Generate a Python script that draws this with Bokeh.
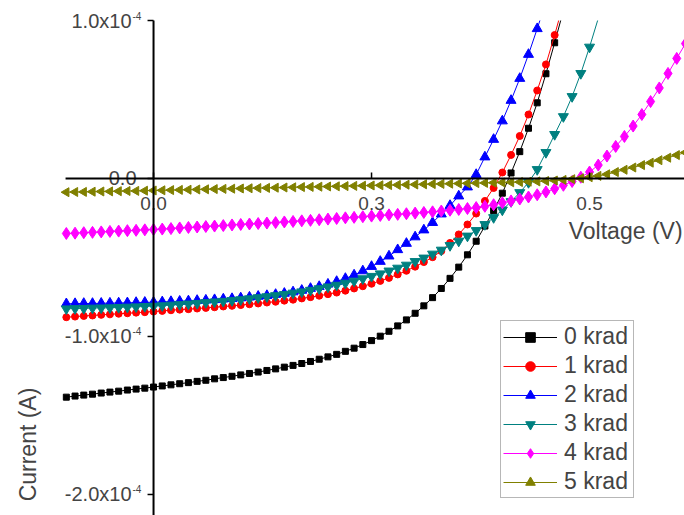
import numpy as np
from bokeh.embed import file_html
from bokeh.models import BoxAnnotation, Label, Legend, LegendItem, Range1d
from bokeh.plotting import figure
from bokeh.resources import INLINE

FONT = "Liberation Sans"

# Bias voltage (V)
voltage = [-0.10, -0.09, -0.08, -0.07, -0.06, -0.05, -0.04, -0.03, -0.02, -0.01,
           0.00, 0.01, 0.02, 0.03, 0.04, 0.05, 0.06, 0.07, 0.08, 0.09,
           0.10, 0.11, 0.12, 0.13, 0.14, 0.15, 0.16, 0.17, 0.18, 0.19,
           0.20, 0.21, 0.22, 0.23, 0.24, 0.25, 0.26, 0.27, 0.28, 0.29,
           0.30, 0.31, 0.32, 0.33, 0.34, 0.35, 0.36, 0.37, 0.38, 0.39,
           0.40, 0.41, 0.42, 0.43, 0.44, 0.45, 0.46, 0.47, 0.48, 0.49,
           0.50, 0.51, 0.52, 0.53, 0.54, 0.55, 0.56, 0.57, 0.58, 0.59,
           0.60, 0.61]

# Measured current, in units of 1e-4 A (each series starts at -0.10 V)
current_0krad = [-1.384, -1.377, -1.371, -1.365, -1.358, -1.352, -1.346, -1.339, -1.333, -1.327,
                 -1.320, -1.313, -1.306, -1.299, -1.292, -1.284, -1.277, -1.268, -1.260, -1.252,
                 -1.243, -1.234, -1.225, -1.215, -1.205, -1.194, -1.183, -1.171, -1.158, -1.144,
                 -1.129, -1.113, -1.094, -1.074, -1.051, -1.026, -0.998, -0.967, -0.933, -0.895,
                 -0.853, -0.806, -0.754, -0.696, -0.632, -0.561, -0.483, -0.397, -0.301, -0.204,
                 -0.093, 0.035, 0.170, 0.318, 0.479, 0.663, 0.859, 1.063]

current_1krad = [-0.878, -0.874, -0.870, -0.867, -0.863, -0.860, -0.856, -0.853, -0.849, -0.846,
                 -0.842, -0.838, -0.834, -0.830, -0.827, -0.823, -0.819, -0.815, -0.810, -0.806,
                 -0.801, -0.796, -0.791, -0.785, -0.780, -0.773, -0.767, -0.759, -0.751, -0.742,
                 -0.732, -0.722, -0.710, -0.696, -0.682, -0.666, -0.648, -0.629, -0.607, -0.584,
                 -0.558, -0.529, -0.498, -0.459, -0.408, -0.354, -0.291, -0.222, -0.142, -0.060,
                 0.038, 0.149, 0.269, 0.405, 0.557, 0.722, 0.908, 1.108]

current_2krad = [-0.793, -0.792, -0.791, -0.791, -0.790, -0.789, -0.788, -0.787, -0.785, -0.784,
                 -0.783, -0.781, -0.779, -0.777, -0.775, -0.772, -0.770, -0.767, -0.763, -0.760,
                 -0.756, -0.751, -0.746, -0.741, -0.734, -0.727, -0.718, -0.708, -0.696, -0.684,
                 -0.669, -0.652, -0.633, -0.611, -0.585, -0.557, -0.525, -0.491, -0.451, -0.411,
                 -0.370, -0.326, -0.279, -0.225, -0.171, -0.111, -0.054, 0.025, 0.136, 0.247,
                 0.364, 0.494, 0.633, 0.785, 0.948, 1.117]

current_3krad = [-0.825, -0.823, -0.822, -0.820, -0.819, -0.818, -0.816, -0.814, -0.812, -0.810,
                 -0.808, -0.805, -0.801, -0.798, -0.794, -0.790, -0.785, -0.781, -0.777, -0.772,
                 -0.767, -0.761, -0.754, -0.748, -0.741, -0.734, -0.725, -0.717, -0.707, -0.697,
                 -0.686, -0.675, -0.662, -0.649, -0.634, -0.619, -0.603, -0.585, -0.567, -0.548,
                 -0.525, -0.503, -0.478, -0.453, -0.424, -0.396, -0.364, -0.329, -0.291, -0.247,
                 -0.199, -0.146, -0.089, -0.025, 0.057, 0.165, 0.279, 0.392, 0.519, 0.665,
                 0.832, 1.013]

current_4krad = [-0.348, -0.346, -0.343, -0.341, -0.338, -0.335, -0.333, -0.330, -0.328, -0.325,
                 -0.323, -0.320, -0.317, -0.313, -0.310, -0.307, -0.304, -0.301, -0.298, -0.294,
                 -0.291, -0.288, -0.285, -0.282, -0.279, -0.275, -0.272, -0.268, -0.265, -0.261,
                 -0.257, -0.253, -0.249, -0.246, -0.242, -0.238, -0.234, -0.230, -0.227, -0.223,
                 -0.219, -0.215, -0.211, -0.206, -0.201, -0.196, -0.190, -0.184, -0.176, -0.166,
                 -0.154, -0.142, -0.130, -0.117, -0.103, -0.085, -0.065, -0.043, -0.019, 0.008,
                 0.041, 0.085, 0.142, 0.203, 0.266, 0.332, 0.405, 0.487, 0.573, 0.665,
                 0.760, 0.854]

current_5krad = [-0.0867, -0.0854, -0.0848, -0.0835, -0.0823, -0.0816, -0.0804, -0.0791, -0.0785, -0.0772,
                 -0.0759, -0.0747, -0.0734, -0.0722, -0.0709, -0.0696, -0.0684, -0.0671, -0.0658, -0.0646,
                 -0.0633, -0.0620, -0.0608, -0.0595, -0.0582, -0.0570, -0.0557, -0.0544, -0.0532, -0.0519,
                 -0.0506, -0.0494, -0.0481, -0.0468, -0.0456, -0.0443, -0.0430, -0.0418, -0.0405, -0.0392,
                 -0.0380, -0.0367, -0.0354, -0.0342, -0.0329, -0.0316, -0.0304, -0.0291, -0.0278, -0.0266,
                 -0.0253, -0.0241, -0.0222, -0.0203, -0.0184, -0.0158, -0.0127, -0.0089, -0.0044, 0.0013,
                 0.0082, 0.0165, 0.0266, 0.0405, 0.0551, 0.0696, 0.0848, 0.1000, 0.1158, 0.1316,
                 0.1481, 0.1646]

series_labels = ["0 krad", "1 krad", "2 krad", "3 krad", "4 krad", "5 krad"]
series_currents = [current_0krad, current_1krad, current_2krad,
                   current_3krad, current_4krad, current_5krad]

# Axis ticks and their printed labels
x_ticks = [0.0, 0.25, 0.5]
x_tick_labels = ["0.0", "0.3", "0.5"]
y_ticks = [1.0e-4, 0.0, -1.0e-4, -2.0e-4]
y_tick_mantissa = ["1.0x10", "0.0", "-1.0x10", "-2.0x10"]
y_tick_exponent = ["-4", "", "-4", "-4"]

# Visible window of the axes
x_lo, x_hi = -0.1755, 0.6089
y_lo, y_hi = -2.133e-4, 1.1266e-4
x_axis_start = -0.1009   # left end of the drawn voltage axis
y_axis_top = 1.0e-4      # data above this current is not shown

# colour, marker, marker size, marker angle
styles = [
    ("#000000", "square", 6, 0.0),
    ("#ff0000", "circle", 7, 0.0),
    ("#0000ff", "triangle", 10, 0.0),
    ("#008080", "inverted_triangle", 10, 0.0),
    ("#ff00ff", "diamond", 12, 0.0),
    ("#808000", "triangle", 9, np.pi / 2),
]

p = figure(width=684, height=515, output_backend="svg", toolbar_location=None,
           x_range=Range1d(x_lo, x_hi), y_range=Range1d(y_lo, y_hi),
           x_axis_location=None, y_axis_location=None,
           min_border_left=0, min_border_top=0, min_border_right=0, min_border_bottom=0)
p.outline_line_color = None
p.xgrid.visible = False
p.ygrid.visible = False
p.background_fill_color = "white"
p.border_fill_color = "white"

items = []
for label, cur, (color, marker, size, angle) in zip(series_labels, series_currents, styles):
    v = np.array(voltage[:len(cur)])
    amps = np.array(cur) * 1e-4
    ln = p.line(v, amps, line_color=color, line_width=1)
    # markers only inside the plotted current range; the line runs on to the edge
    shown = amps <= y_axis_top
    sc = p.scatter(v[shown], amps[shown], marker=marker, size=size, angle=angle,
                   fill_color=color, line_color=color)
    items.append(LegendItem(label=label, renderers=[ln, sc]))

# Plot area ends at the top tick: hide the line ends drawn above it
p.add_layout(BoxAnnotation(bottom=y_axis_top, top=3 * y_hi, left=x_lo - 1, right=x_hi + 1,
                           fill_color="white", fill_alpha=1.0, line_color=None))

# Axes crossing at the origin, drawn above the curves
p.line([x_axis_start, x_hi], [0, 0], line_color="black", line_width=2, level="overlay")
p.line([0, 0], [y_lo, y_axis_top], line_color="black", line_width=2, level="overlay")
p.ray(x=[0.0] * len(y_ticks), y=y_ticks, length=6, length_units="screen", angle=np.pi,
      line_color="black", line_width=1.5, level="overlay")
p.ray(x=x_ticks, y=[0.0] * len(x_ticks), length=6, length_units="screen", angle=np.pi / 2,
      line_color="black", line_width=1.5, level="overlay")

legend = Legend(items=items, location=(500, 17),
                label_text_font=FONT, label_text_font_size="23px",
                glyph_width=54, glyph_height=24, label_height=24, label_width=67,
                label_standoff=7, spacing=2, padding=2, margin=0,
                border_line_color="#707070", border_line_width=1,
                background_fill_color="white", background_fill_alpha=1)
p.add_layout(legend)

# Tick labels
for t, lab in zip(x_ticks, x_tick_labels):
    p.add_layout(Label(x=t, y=0, y_offset=-25, text=lab, text_align="center",
                       text_baseline="middle", text_font=FONT, text_font_size="19px"))
for t, mant, exp in zip(y_ticks, y_tick_mantissa, y_tick_exponent):
    off = -22 if exp else -17
    p.add_layout(Label(x=0, y=t, x_offset=off, text=mant, text_align="right",
                       text_baseline="middle", text_font=FONT, text_font_size="20px"))
    if exp:
        p.add_layout(Label(x=0, y=t, x_offset=off + 1, y_offset=9, text=exp,
                           text_align="left", text_baseline="top",
                           text_font=FONT, text_font_size="10px"))

# Axis titles
p.add_layout(Label(x=0, y=0, x_offset=529, y_offset=-53, text="Voltage (V)",
                   text_align="right", text_baseline="middle",
                   text_font=FONT, text_font_size="23px"))
p.add_layout(Label(x=0, y=0, x_offset=-126, y_offset=-266, angle=np.pi / 2,
                   text="Current (A)", text_align="center", text_baseline="middle",
                   text_font=FONT, text_font_size="23px"))

open("out.html", "w").write(file_html(p, INLINE))
